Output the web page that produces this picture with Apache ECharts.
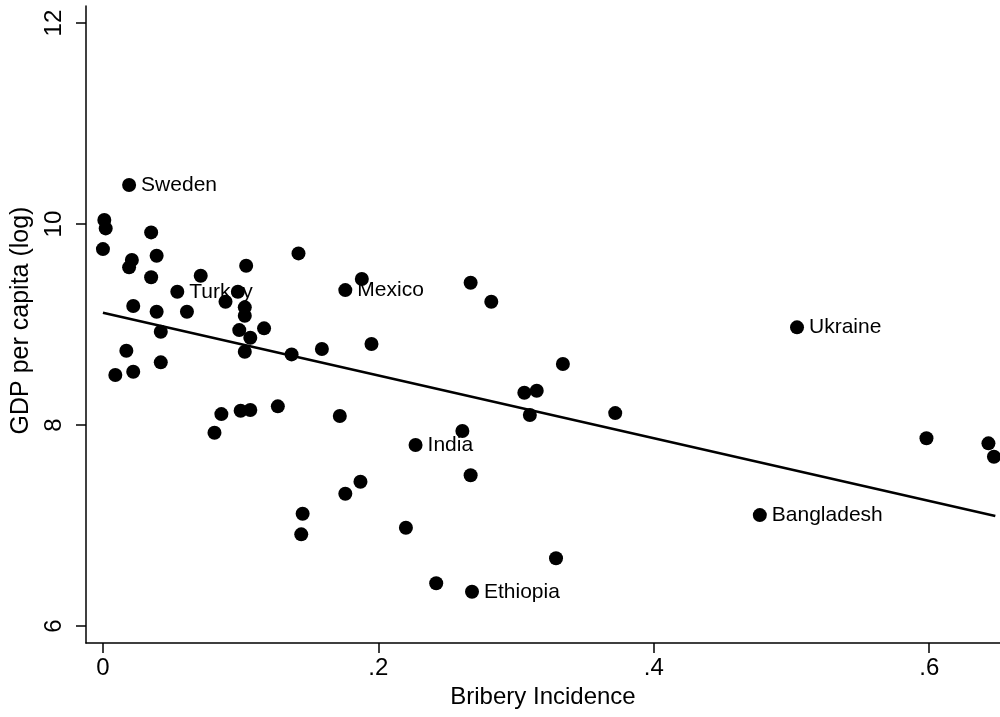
<!DOCTYPE html>
<html>
<head>
<meta charset="utf-8">
<script src="https://cdn.jsdelivr.net/npm/echarts@6/dist/echarts.min.js"></script>
<style>html,body{margin:0;padding:0;background:#fff}#c{width:1000px;height:717px}</style>
</head>
<body>
<div id="c"></div>
<script>
var bribery = [0.019,0.001,0.002,0.000,0.035,0.021,0.019,0.039,0.035,0.142,0.104,0.071,0.054,0.098,0.089,0.103,0.103,0.022,0.039,0.061,0.099,0.117,0.042,0.107,0.103,0.137,0.159,0.017,0.042,0.009,0.022,0.086,0.100,0.107,0.127,0.172,0.081,0.187,0.176,0.145,0.144,0.176,0.188,0.267,0.282,0.195,0.334,0.306,0.315,0.310,0.372,0.261,0.227,0.267,0.220,0.329,0.242,0.268,0.504,0.598,0.643,0.647,0.477];
var gdpLog = [10.388,10.040,9.957,9.751,9.917,9.642,9.569,9.685,9.470,9.708,9.585,9.486,9.326,9.326,9.227,9.171,9.088,9.184,9.127,9.127,8.945,8.962,8.928,8.869,8.729,8.703,8.756,8.739,8.624,8.498,8.530,8.109,8.142,8.149,8.186,8.090,7.923,7.436,7.316,7.117,6.912,9.343,9.453,9.416,9.227,8.806,8.607,8.321,8.341,8.100,8.119,7.940,7.801,7.500,6.978,6.674,6.425,6.341,8.972,7.868,7.818,7.685,7.104];
var country = ['Sweden','','','','','','','','','','','','Turkey','','','','','','','','','','','','','','','','','','','','','','','','','','','','','Mexico','','','','','','','','','','','India','','','','','Ethiopia','Ukraine','','','','Bangladesh'];
var fitX = [0, 0.648];
var fitY = [9.117, 7.095];
var xTicks = [0, 0.2, 0.4, 0.6];
var yTicks = [6, 8, 10, 12];

var labeled = [], plain = [];
for (var i = 0; i < bribery.length; i++) {
  if (country[i]) labeled.push({value:[bribery[i], gdpLog[i]], name: country[i]});
  else plain.push([bribery[i], gdpLog[i]]);
}
var fitData = fitX.map(function(x, i){ return [x, fitY[i]]; });

var FONT = "'Liberation Sans', Arial, Helvetica, sans-serif";
var chart = echarts.init(document.getElementById('c'), null, {renderer:'canvas'});
chart.setOption({
  animation: false,
  backgroundColor: '#fff',
  grid: {left: 86, right: 0, top: 6, bottom: 74, containLabel: false, outerBoundsMode: 'none'},
  xAxis: {
    type: 'value', min: -0.0123, max: 0.6514,
    name: 'Bribery Incidence', nameLocation: 'middle', nameGap: 36,
    nameTextStyle: {fontFamily: FONT, fontSize: 24, color: '#000'},
    axisLine: {show: true, onZero: false, lineStyle: {color: '#000', width: 1.5}},
    axisTick: {show: true, length: 10, lineStyle: {color: '#000', width: 1.5}, customValues: xTicks},
    axisLabel: {fontFamily: FONT, fontSize: 24, color: '#000', margin: 13, customValues: xTicks,
      formatter: function(v){ return v === 0 ? '0' : String(+v.toFixed(2)).replace(/^0\./, '.'); }},
    splitLine: {show: false}
  },
  yAxis: {
    type: 'value', min: 5.831, max: 12.17,
    name: 'GDP per capita (log)', nameLocation: 'middle', nameGap: 50, nameRotate: 90,
    nameTextStyle: {fontFamily: FONT, fontSize: 25, color: '#000', padding: [0, 0, 0, 8]},
    axisLine: {show: true, onZero: false, lineStyle: {color: '#000', width: 1.5}},
    axisTick: {show: true, length: 10, lineStyle: {color: '#000', width: 1.5}, customValues: yTicks},
    axisLabel: {fontFamily: FONT, fontSize: 24, color: '#000', margin: 20, rotate: 90, customValues: yTicks},
    splitLine: {show: false}
  },
  series: [
    {
      type: 'line', data: fitData, showSymbol: false, symbol: 'none', z: 1,
      lineStyle: {color: '#000', width: 2.5}, silent: true
    },
    {
      type: 'scatter', data: labeled, symbol: 'circle', symbolSize: 14, z: 2,
      itemStyle: {color: '#000', opacity: 1},
      label: {show: true, position: 'right', distance: 5, formatter: '{b}',
        fontFamily: FONT, fontSize: 21, color: '#000'}
    },
    {
      type: 'scatter', data: plain, symbol: 'circle', symbolSize: 14, z: 3,
      itemStyle: {color: '#000', opacity: 1}
    }
  ]
});
</script>
</body>
</html>
